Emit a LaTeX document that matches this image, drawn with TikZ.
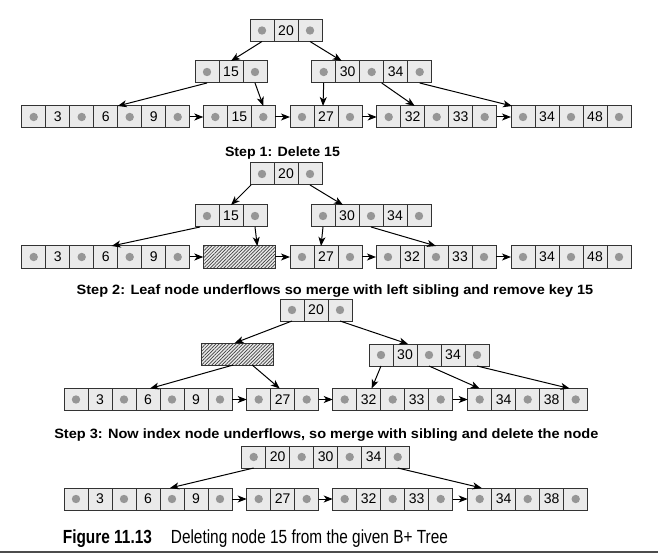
\documentclass[tikz,border=0pt]{standalone}
\usepackage{fontspec}
\setmainfont{Liberation Sans}
\usepackage{graphicx}
\usetikzlibrary{arrows.meta,patterns.meta}
\definecolor{cellfill}{HTML}{EAEAEA}
\definecolor{dotgray}{HTML}{969696}
\definecolor{edgecol}{HTML}{333333}
\tikzset{
  cell/.style={draw=edgecol, fill=cellfill, line width=1pt, minimum width=24pt,
    minimum height=22pt, inner sep=0pt, outer sep=0pt, anchor=north west,
    font=\fontsize{14}{14}\selectfont},
  hatchbox/.style={draw=edgecol, line width=1pt, minimum width=72pt, minimum height=22pt,
    inner sep=0pt, outer sep=0pt, anchor=north west, preaction={fill=cellfill},
    pattern={Lines[angle=45,distance=2.4pt,line width=0.7pt]}, pattern color=black!75},
  ptr/.style={-{Stealth[length=9pt,width=7pt,inset=2.5pt]}, line width=1pt, black},
  steplabel/.style={font=\fontsize{13.5}{14}\selectfont\bfseries, inner sep=0pt, anchor=base},
  captext/.style={font=\fontsize{19}{20}\selectfont, inner sep=0pt, anchor=base west},
}
\newcommand\bplus[4]{%
  \foreach \v [count=\i] in {#4} {%
    \node[cell] (#1-\i) at ({#2+24*(\i-1)},#3) {\if p\v\else\v\fi};
    \if p\v \fill[dotgray] (#1-\i.center) circle (4.2pt);\fi
  }}
\begin{document}
\begin{tikzpicture}[x=1pt,y=-1pt]
\useasboundingbox (0,0) rectangle (658,553);
% ---------- Tree A ----------
\bplus{Ar}{250}{19.5}{p,20,p}
\bplus{Al}{195}{61}{p,15,p}
\bplus{AR}{311.7}{61}{p,30,p,34,p}
\bplus{A1}{21.7}{106}{p,3,p,6,p,9,p}
\bplus{A2}{203.3}{106}{p,15,p}
\bplus{A3}{290}{106}{p,27,p}
\bplus{A4}{376.7}{106}{p,32,p,33,p}
\bplus{A5}{511}{106}{p,34,p,48,p}
\draw[ptr] (Ar-1.south) -- (Al-2.north);
\draw[ptr] (Ar-3.south) -- ([xshift=-6pt]AR-2.north);
\draw[ptr] (Al-1.south) -- (A1-4.north east);
\draw[ptr] (Al-3.south) -- (A2-3.north);
\draw[ptr] (AR-1.south) -- ([xshift=-3pt]A3-2.north);
\draw[ptr] ([xshift=10pt]AR-3.south) -- ([xshift=2pt]A4-2.north);
\draw[ptr] (AR-5.south) -- ([xshift=1pt]A5-1.north west);
\draw[ptr] (A1-7.east) -- (A2-1.west);
\draw[ptr] (A2-3.east) -- (A3-1.west);
\draw[ptr] (A3-3.east) -- (A4-1.west);
\draw[ptr] (A4-5.east) -- (A5-1.west);
\node[steplabel] (s1) at (282.5,157) {\resizebox{115pt}{\height}{Step 1: Delete 15}};
% ---------- Tree B ----------
\bplus{Br}{250}{163}{p,20,p}
\bplus{Bl}{195}{205}{p,15,p}
\bplus{BR}{311}{205}{p,30,p,34,p}
\bplus{B1}{21.7}{246}{p,3,p,6,p,9,p}
\node[hatchbox] (B2) at (203.3,246) {};
\bplus{B3}{290}{246}{p,27,p}
\bplus{B4}{376}{246}{p,32,p,33,p}
\bplus{B5}{511}{246}{p,34,p,48,p}
\draw[ptr] ([xshift=1pt]Br-1.south west) -- (Bl-2.north);
\draw[ptr] (Br-3.south) -- ([xshift=-4pt]BR-2.north);
\draw[ptr] ([xshift=-7pt]Bl-1.south) -- ([xshift=6pt]B1-4.north);
\draw[ptr] (Bl-3.south) -- ([xshift=-18pt]B2.north east);
\draw[ptr] (BR-1.south) -- ([xshift=-5pt]B3-2.north);
\draw[ptr] (BR-3.south) -- (B4-3.north);
\draw[ptr] (B1-7.east) -- (B2.west);
\draw[ptr] (B2.east) -- (B3-1.west);
\draw[ptr] (B3-3.east) -- (B4-1.west);
\draw[ptr] (B4-5.east) -- (B5-1.west);
\node[steplabel] (s2) at (335,294) {\resizebox{516.6pt}{\height}{Step 2: Leaf node underflows so merge with left sibling and remove key 15}};
% ---------- Tree C ----------
\bplus{Cr}{280}{299}{p,20,p}
\node[hatchbox] (Ch) at (201.7,343) {};
\bplus{CR}{369}{344}{p,30,p,34,p}
\bplus{C1}{64}{388.5}{p,3,p,6,p,9,p}
\bplus{C2}{246.7}{388.5}{p,27,p}
\bplus{C3}{332.7}{388.5}{p,32,p,33,p}
\bplus{C4}{467.7}{388.5}{p,34,p,38,p}
\draw[ptr] (Cr-1.south) -- ([xshift=-3pt]Ch.north);
\draw[ptr] (Cr-3.south) -- ([xshift=3pt]CR-2.north);
\draw[ptr] ([xshift=-4.5pt]Ch.south) -- ([xshift=2pt]C1-4.north);
\draw[ptr] ([xshift=14.5pt]Ch.south) -- ([xshift=-3pt]C2-2.north);
\draw[ptr] (CR-1.south) -- ([xshift=3pt]C3-2.north);
\draw[ptr] (CR-3.south) -- (C4-1.north);
\draw[ptr] (CR-5.south) -- ([xshift=-6pt]C4-5.north);
\draw[ptr] (C1-7.east) -- (C2-1.west);
\draw[ptr] (C2-3.east) -- (C3-1.west);
\draw[ptr] (C3-5.east) -- (C4-1.west);
\node[steplabel] (s3) at (326.3,438) {\resizebox{544pt}{\height}{Step 3: Now index node underflows, so merge with sibling and delete the node}};
% ---------- Tree D ----------
\bplus{Dr}{241.7}{446}{p,20,p,30,p,34,p}
\bplus{D1}{64}{488}{p,3,p,6,p,9,p}
\bplus{D2}{246.7}{488}{p,27,p}
\bplus{D3}{332.7}{488}{p,32,p,33,p}
\bplus{D4}{467.7}{488}{p,34,p,38,p}
\draw[ptr] (Dr-1.south) -- ([xshift=-2pt]D1-5.north);
\draw[ptr] (Dr-7.south) -- ([xshift=2pt]D4-1.north);
\draw[ptr] (D1-7.east) -- (D2-1.west);
\draw[ptr] (D2-3.east) -- (D3-1.west);
\draw[ptr] (D3-5.east) -- (D4-1.west);
% ---------- Caption ----------
\node[captext] (fig) at (62.7,543.5) {\resizebox{89pt}{\height}{\bfseries Figure 11.13}};
\node[captext] (capt) at (170.7,543.5) {\resizebox{277pt}{\height}{Deleting node 15 from the given B+ Tree}};
\draw[line width=2pt, black!70] (0,552) -- (658,552);
\end{tikzpicture}
\end{document}
